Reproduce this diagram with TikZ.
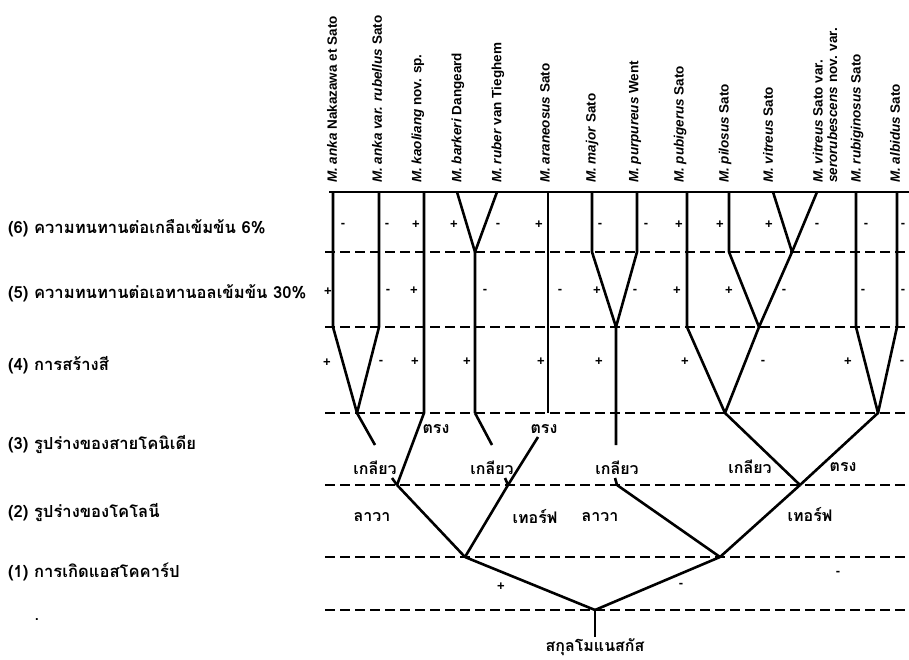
\documentclass[tikz,border=0pt]{standalone}
\usepackage{fontspec}
\setmainfont{Liberation Sans}
\newfontfamily\thaifont[Script=Thai]{Loma}
\begin{document}
\begin{tikzpicture}[x=1pt, y=-1pt,
    branch/.style={line width=2.6pt, line join=round},
    level/.style={line width=1.8pt, dash pattern=on 10pt off 5pt},
    taxon/.style={rotate=90, anchor=west, inner sep=0pt, align=left, font=\fontsize{13.5}{14.5}\selectfont\bfseries},
    trait/.style={anchor=west, inner sep=0pt, font=\thaifont\fontsize{16.6}{17}\selectfont\bfseries},
    state/.style={inner sep=1pt, font=\thaifont\fontsize{16}{17}\selectfont\bfseries},
    sign/.style={inner sep=0pt, font=\fontsize{13}{13}\selectfont\bfseries}]
  \useasboundingbox (0,0) rectangle (909,660);

  % species names
  \node[taxon] (sp1) at (332,183) {\textit{M. anka} Nakazawa et Sato};
  \node[taxon] (sp2) at (377,183) {\textit{M. anka var. rubellus} Sato};
  \node[taxon] (sp3) at (418,183) {\textit{M. kaoliang} nov. sp.};
  \node[taxon] (sp4) at (458,183) {\textit{M. barkeri} Dangeard};
  \node[taxon] (sp5) at (498,183) {\textit{M. ruber} van Tieghem};
  \node[taxon] (sp6) at (545,183) {\textit{M. araneosus} Sato};
  \node[taxon] (sp7) at (592,183) {\textit{M. major} Sato};
  \node[taxon] (sp8) at (635,183) {\textit{M. purpureus} Went};
  \node[taxon] (sp9) at (680,183) {\textit{M. pubigerus} Sato};
  \node[taxon] (sp10) at (725,183) {\textit{M. pilosus} Sato};
  \node[taxon] (sp11) at (768,183) {\textit{M. vitreus} Sato};
  \node[taxon] (sp12) at (825,183) {\textit{M. vitreus} Sato var.\\\textit{serorubescens} nov. var.};
  \node[taxon] (sp13) at (857,183) {\textit{M. rubiginosus} Sato};
  \node[taxon] (sp14) at (895,183) {\textit{M. albidus} Sato};

  % characters
  \node[trait] (c6) at (8,228) {(6) ความทนทานต่อเกลือเข้มข้น 6\%};
  \node[trait] (c5) at (8,293) {(5) ความทนทานต่อเอทานอลเข้มข้น 30\%};
  \node[trait] (c4) at (8,365) {(4) การสร้างสี};
  \node[trait] (c3) at (8,445) {(3) รูปร่างของสายโคนิเดีย};
  \node[trait] (c2) at (8,513) {(2) รูปร่างของโคโลนี};
  \node[trait] (c1) at (8,572) {(1) การเกิดแอสโคคาร์ป};
  \node[sign] (dot) at (37,620) {.};

  % levels
  \draw[branch] (329,192) -- (909,192);
  \draw[level] (325,252) -- (909,252);
  \draw[level] (325,327) -- (909,327);
  \draw[level] (325,413) -- (909,413);
  \draw[level] (325,485) -- (909,485);
  \draw[level] (325,557) -- (909,557);
  \draw[level] (325,610) -- (909,610);

  % junctions
  \coordinate (j1) at (357,413);
  \coordinate (j2) at (475,252);
  \coordinate (j3) at (616,327);
  \coordinate (j4) at (792,252);
  \coordinate (j5) at (759,327);
  \coordinate (j6) at (725,413);
  \coordinate (j7) at (878,413);
  \coordinate (n1) at (397,485);
  \coordinate (n2) at (508,485);
  \coordinate (n3) at (617,485);
  \coordinate (n4) at (800,485);
  \coordinate (m1) at (465,557);
  \coordinate (m2) at (720,557);
  \coordinate (r) at (595,610);

  % branches
  \draw[branch] (333,192) -- (333,327) -- (j1);
  \draw[branch] (379,192) -- (379,327) -- (j1);
  \draw[branch] (424,192) -- (424,413) -- (n1);
  \draw[branch] (457,192) -- (j2);
  \draw[branch] (497,192) -- (j2) -- (475,413);
  \draw[branch] (548,192) -- (548,413);
  \draw[branch] (592,192) -- (592,252) -- (j3);
  \draw[branch] (637,192) -- (637,252) -- (j3) -- (616,445);
  \draw[branch] (687,192) -- (687,327) -- (j6);
  \draw[branch] (729,192) -- (729,252) -- (j5);
  \draw[branch] (773,192) -- (j4);
  \draw[branch] (817,192) -- (j4) -- (j5) -- (j6) -- (n4);
  \draw[branch] (856,192) -- (856,327) -- (j7);
  \draw[branch] (897,192) -- (897,327) -- (j7) -- (n4);

  % conidial chains
  \node[state] (g1) at (375,468) {เกลียว};
  \node[state] (g2) at (492,468) {เกลียว};
  \node[state] (g3) at (617,468) {เกลียว};
  \node[state] (g4) at (750,467) {เกลียว};
  \node[state] (t1) at (436,429) {ตรง};
  \node[state] (t2) at (544,429) {ตรง};
  \node[state] (t3) at (843,467) {ตรง};
  \draw[branch] (j1) -- (375,445);
  \draw[branch] (392,478) -- (n1);
  \draw[branch] (475,413) -- (492,445);
  \draw[branch] (505,478) -- (n2);
  \draw[branch] (538,437) -- (n2);
  \draw[branch] (615,478) -- (n3);

  % colonies
  \node[state] (l1) at (372,517) {ลาวา};
  \node[state] (f1) at (535,517) {เทอร์ฟ};
  \node[state] (l2) at (600,517) {ลาวา};
  \node[state] (f2) at (810,515) {เทอร์ฟ};
  \draw[branch] (n1) -- (m1);
  \draw[branch] (n2) -- (m1);
  \draw[branch] (n3) -- (m2);
  \draw[branch] (n4) -- (m2);

  % ascocarp
  \draw[branch] (m1) -- (r);
  \draw[branch] (m2) -- (r);
  \node[state] (root) at (595,647) {สกุลโมแนสกัส};
  \draw[branch] (r) -- (root.north);

  % signs
  \node[sign] at (343,225) {-};
  \node[sign] at (387,225) {-};
  \node[sign] at (416,225) {+};
  \node[sign] at (454,225) {+};
  \node[sign] at (498,225) {-};
  \node[sign] at (539,225) {+};
  \node[sign] at (600,225) {-};
  \node[sign] at (646,225) {-};
  \node[sign] at (679,225) {+};
  \node[sign] at (720,225) {+};
  \node[sign] at (769,225) {+};
  \node[sign] at (817,225) {-};
  \node[sign] at (866,225) {-};
  \node[sign] at (903,225) {-};

  \node[sign] at (328,292) {+};
  \node[sign] at (388,291) {-};
  \node[sign] at (414,291) {+};
  \node[sign] at (485,291) {-};
  \node[sign] at (560,291) {-};
  \node[sign] at (597,291) {+};
  \node[sign] at (635,291) {-};
  \node[sign] at (677,291) {+};
  \node[sign] at (729,291) {+};
  \node[sign] at (784,291) {-};
  \node[sign] at (863,291) {-};
  \node[sign] at (903,291) {-};

  \node[sign] at (327,363) {+};
  \node[sign] at (381,362) {-};
  \node[sign] at (415,362) {+};
  \node[sign] at (467,362) {+};
  \node[sign] at (541,362) {+};
  \node[sign] at (599,362) {+};
  \node[sign] at (685,362) {+};
  \node[sign] at (763,362) {-};
  \node[sign] at (848,362) {+};
  \node[sign] at (902,362) {-};

  \node[sign] at (501,587) {+};
  \node[sign] at (681,585) {-};
  \node[sign] at (838,573) {-};
\end{tikzpicture}
\end{document}
